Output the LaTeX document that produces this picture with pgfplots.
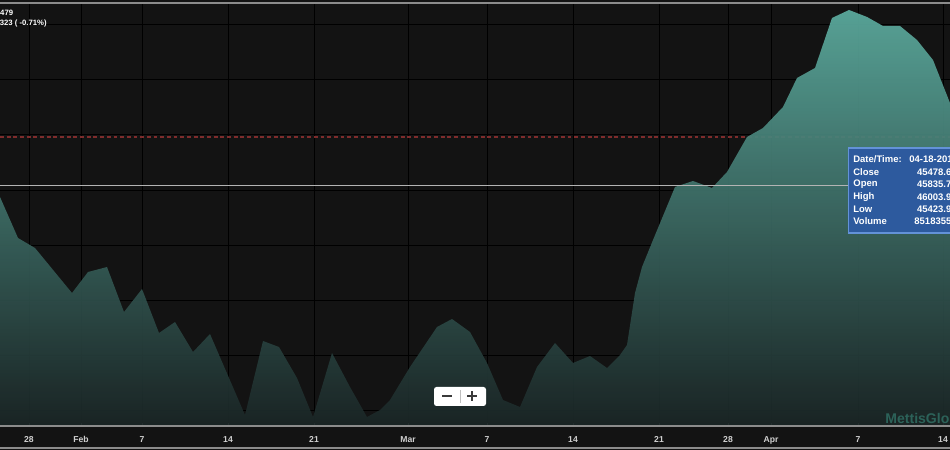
\documentclass[border=0pt]{standalone}
\usepackage{pgfplots}
\pgfplotsset{compat=1.18}
\usepackage{fontspec}
\setmainfont{Liberation Sans}
\definecolor{bg}{HTML}{131313}
\definecolor{fillTop}{HTML}{5CAC9F}
\definecolor{fillBot}{HTML}{1A2525}
\definecolor{axgray}{HTML}{8C8C8C}
\definecolor{ticklab}{HTML}{D0D0D0}
\definecolor{reddash}{HTML}{7E2C2C}
\definecolor{whiteline}{HTML}{B4B4B4}
\definecolor{tipfill}{HTML}{2D5A9E}
\definecolor{tipborder}{HTML}{6392D8}
\definecolor{wmark}{HTML}{2C6259}
\definecolor{btntxt}{HTML}{3A3A3A}
\begin{document}
\begin{tikzpicture}[x=0.2mm,y=0.2mm]
\useasboundingbox (0,0) rectangle (950,450);
\clip (0,0) rectangle (950,450);
\fill[bg] (0,0) rectangle (950,450);
\begin{axis}[
  at={(0,24)}, anchor=south west,
  width=190mm, height=84.6mm, scale only axis,
  xmin=0, xmax=950, ymin=0, ymax=423,
  axis line style={draw=none},
  xtick={29,81,142,228,314,408,487,573,659,728,771,858,943},
  xticklabels={28,Feb,7,14,21,Mar,7,14,21,28,Apr,7,14},
  ytick={16,71,126,181,236,291,346,401},
  yticklabels={},
  grid=major,
  major grid style={draw=black, line width=0.55pt},
  xtick pos=bottom, ytick pos=left,
  tick align=inside,
  major tick length=0.6mm,
  xtick style={draw=axgray, line width=0.4pt},
  ytick style={draw=none},
  xticklabel style={font=\fontsize{4.9}{5}\selectfont\bfseries, text=ticklab, anchor=base, yshift=-3.3mm},
  clip=true,
]
\draw[reddash, line width=0.6pt, dash pattern=on 2.2pt off 1.6pt] (axis cs:0,289) -- (axis cs:950,289);
\addplot[draw=none, top color=fillTop, bottom color=fillBot, fill opacity=0.93] coordinates {
(0,229) (18,188) (35,178) (72,133) (88,154) (107,159) (124,114) (142,137)
(159,93) (175,104) (193,74) (210,92) (245,11) (263,85) (279,79) (297,48)
(313,9) (332,73) (350,39) (367,9) (380,16) (390,26) (410,59) (437,99)
(452,107) (470,94) (487,63) (503,26) (520,19) (537,59) (555,83) (573,63)
(590,70) (607,58) (620,71) (627,81) (635,133) (642,159) (653,186) (675,239)
(693,245) (712,238) (727,254) (747,289) (763,298) (783,319) (797,348) (815,358)
(832,408) (849,416) (867,409) (883,400) (900,400) (917,386) (933,366) (950,323)
} \closedcycle;
\draw[whiteline, line width=0.5pt] (axis cs:0,241) -- (axis cs:950,241);
\end{axis}
% frame lines
\draw[axgray, line width=0.6pt] (0,24) -- (950,24);
\draw[axgray, line width=0.6pt] (0,447) -- (950,447);
\draw[axgray, line width=0.6pt] (0,2) -- (950,2);
% watermark
\node[anchor=west, font=\fontsize{8}{9}\selectfont\bfseries, text=wmark, inner sep=0pt] at (885,32) {MettisGlobal};
% top-left info
\node[anchor=base east, font=\fontsize{4.4}{5}\selectfont\bfseries, text=white, inner sep=0pt] at (13.5,434) {45,479};
\node[anchor=base east, font=\fontsize{4.4}{5}\selectfont\bfseries, text=white, inner sep=0pt] at (47,424) {-323 ( -0.71\%)};
% zoom buttons
\fill[white, rounded corners=0.5mm] (434,44) rectangle (486,63);
\draw[black!25, line width=0.3pt] (460.5,47) -- (460.5,60);
\draw[btntxt, line width=1.1pt] (442,54) -- (452,54);
\draw[btntxt, line width=1.1pt] (467,54) -- (477,54);
\draw[btntxt, line width=1.1pt] (472,49) -- (472,59);
% tooltip
\filldraw[fill=tipfill, draw=tipborder, line width=0.6pt] (848.5,217) rectangle (965,302);
\begin{scope}[every node/.style={font=\fontsize{5.4}{6}\selectfont\bfseries, text=white, inner sep=0pt}]
\node[anchor=west] at (853,291) {Date/Time:};
\node[anchor=west] at (853,278) {Close};
\node[anchor=west] at (853,266) {Open};
\node[anchor=west] at (853,253) {High};
\node[anchor=west] at (853,241) {Low};
\node[anchor=west] at (853,229) {Volume};
\node[anchor=west] at (909,291) {04-18-2019};
\node[anchor=east] at (957,278) {45478.62};
\node[anchor=east] at (957,266) {45835.72};
\node[anchor=east] at (957,253) {46003.95};
\node[anchor=east] at (957,241) {45423.95};
\node[anchor=east] at (957,229) {85183550};
\end{scope}
\end{tikzpicture}
\end{document}
